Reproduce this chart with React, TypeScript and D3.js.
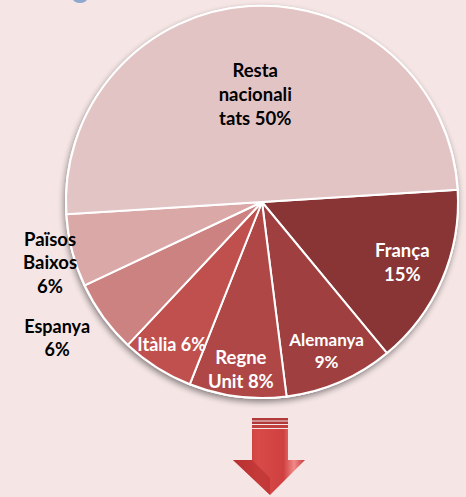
import * as d3 from 'd3';
import React from 'react';

const width = 466;
const height = 497;

const labels = ['França', 'Alemanya', 'Regne Unit', 'Itàlia', 'Espanya', 'Països Baixos', 'Resta nacionalitats'];
const values = [15, 9, 8, 6, 6, 6, 50];
const colors = ['#8a3535', '#a03f3f', '#b04747', '#c0504d', '#cc8280', '#d9a8a7', '#e3c4c5'];

const labelLines = [
	['França', '15%'],
	['Alemanya', '9%'],
	['Regne', 'Unit 8%'],
	['Itàlia 6%'],
	['Espanya', '6%'],
	['Països', 'Baixos', '6%'],
	['Resta', 'nacionali', 'tats 50%'],
];
// label placement: fraction of radius, angle nudge (deg), colour, size
const labelRadius = [0.78, 0.83, 0.86, 0.86, 1.255, 1.125, 0.55];
const labelNudge = [0, 0, 0, 0, 2.4, -1.6, 0];
const labelColor = ['#fff', '#fff', '#fff', '#fff', '#000', '#000', '#000'];
const labelSize = [18.5, 17, 18.5, 18, 18, 18.5, 18.5];

const cx = 262;
const cy = 202;
const radius = 196;
const startDeg = 86.4;

const App = () => {
	const pie = d3
		.pie<number>()
		.sort(null)
		.value(d => d)
		.startAngle((startDeg * Math.PI) / 180)
		.endAngle((startDeg * Math.PI) / 180 + 2 * Math.PI);
	const arcs = pie(values);
	const arc = d3.arc<d3.PieArcDatum<number>>().innerRadius(0).outerRadius(radius);

	const labelPos = (d: d3.PieArcDatum<number>, i: number) => {
		const a = (d.startAngle + d.endAngle) / 2 + (labelNudge[i] * Math.PI) / 180;
		const r = radius * labelRadius[i];
		return [Math.sin(a) * r, -Math.cos(a) * r];
	};

	return (
		<svg width={width} height={height} style={{ position: 'absolute', left: 0, top: 0, fontFamily: 'Lato, sans-serif' }}>
			<defs>
				<filter id="shadow" x="-20%" y="-20%" width="140%" height="140%">
					<feGaussianBlur in="SourceAlpha" stdDeviation="3" />
					<feOffset dx="-1" dy="3" result="b" />
					<feComponentTransfer>
						<feFuncA type="linear" slope="0.45" />
					</feComponentTransfer>
					<feMerge>
						<feMergeNode />
						<feMergeNode in="SourceGraphic" />
					</feMerge>
				</filter>
				<linearGradient id="shaft" x1="0" x2="1" y1="0" y2="0">
					<stop offset="0" stopColor="#b83030" />
					<stop offset="0.35" stopColor="#d84a48" />
					<stop offset="0.7" stopColor="#cf4040" />
					<stop offset="0.85" stopColor="#f08a88" />
					<stop offset="1" stopColor="#c43a3a" />
				</linearGradient>
			</defs>
			<rect width={width} height={height} fill="#f5e5e5" />
			<ellipse cx={80} cy={-1} rx={7} ry={4} fill="#8fa8cf" />
			<g transform={`translate(${cx},${cy})`}>
				<circle r={radius + 1} fill="#fff" filter="url(#shadow)" />
				{arcs.map((d, i) => (
					<path key={labels[i]} d={arc(d) || ''} fill={colors[i]} stroke="#fff" strokeWidth={2} />
				))}
				{arcs.map((d, i) => {
					const [x, y] = labelPos(d, i);
					const lines = labelLines[i];
					const lh = labelSize[i] * 1.28;
					return (
						<text
							key={labels[i]}
							textAnchor="middle"
							fontWeight="bold"
							fontSize={labelSize[i]}
							fill={labelColor[i]}
						>
							{lines.map((t, j) => (
								<tspan key={j} x={x} y={y + (j - (lines.length - 1) / 2) * lh} dy="0.35em">
									{t}
								</tspan>
							))}
						</text>
					);
				})}
			</g>
			<g>
				<rect x={252} y={418} width={36} height={2.5} fill="#b03a3a" />
				<rect x={252} y={421.5} width={36} height={2.5} fill="#b03a3a" />
				<rect x={252} y={425} width={36} height={3} fill="#c04040" />
				<path d="M252,429 L288,429 L288,460 L305,460 L270,495 L233,460 L252,460 Z" fill="url(#shaft)" />
				<path d="M270,495 L233,460 L252,460 L270,478 Z" fill="#b83030" opacity={0.6} />
			</g>
		</svg>
	);
};

export default App;
